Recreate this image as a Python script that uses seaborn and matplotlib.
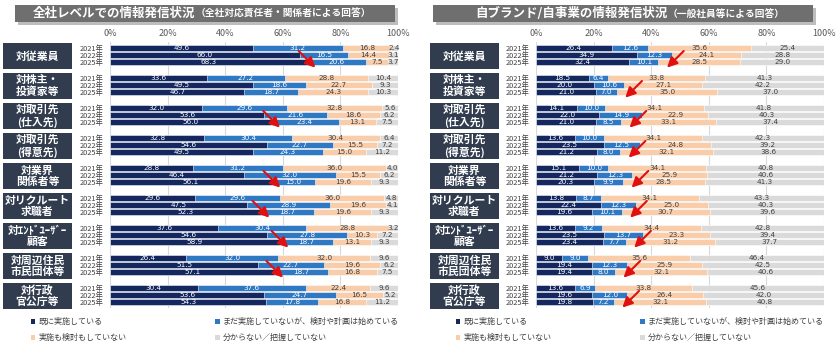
import pandas as pd
import matplotlib
matplotlib.use("Agg")
import matplotlib.pyplot as plt
import seaborn as sns
from matplotlib.patches import Rectangle, Patch
from matplotlib.text import Annotation
from matplotlib.transforms import blended_transform_factory

sns.set_theme(style="white")
plt.rcParams['font.family'] = ['Noto Sans CJK JP', 'DejaVu Sans']

# Categories
years = ['2021年', '2022年', '2025年']
groups = ['対従業員', '対株主・\n投資家等', '対取引先\n(仕入先)', '対取引先\n(得意先)',
          '対業界\n関係者等', '対リクルート\n求職者', '対ｴﾝﾄﾞﾕｰｻﾞｰ\n顧客',
          '対周辺住民\n市民団体等', '対行政\n官公庁等']
answers = ['既に実施している', 'まだ実施していないが、検討や計画は始めている',
           '実施も検討もしていない', '分からない／把握していない']
colors = ['#14275f', '#2f78c4', '#f9cdaa', '#dadada']

# Left panel: 全社対応責任者・関係者 (per group: 2021, 2022, 2025)
left_done = [49.6, 66.0, 68.3, 33.6, 49.5, 46.7, 32.0, 53.6, 56.0,
             32.8, 54.6, 49.5, 28.8, 46.4, 56.1, 29.6, 47.5, 52.3,
             37.6, 54.6, 58.9, 26.4, 51.5, 57.1, 30.4, 53.6, 54.3]
left_plan = [31.2, 16.5, 20.6, 27.2, 18.6, 18.7, 29.6, 21.6, 23.4,
             30.4, 22.7, 24.3, 31.2, 32.0, 15.0, 29.6, 28.9, 18.7,
             30.4, 27.8, 18.7, 32.0, 22.7, 18.7, 37.6, 24.7, 17.8]
left_none = [16.8, 14.4, 7.5, 28.8, 22.7, 24.3, 32.8, 18.6, 13.1,
             30.4, 15.5, 15.0, 36.0, 15.5, 19.6, 36.0, 19.6, 19.6,
             28.8, 10.3, 13.1, 32.0, 19.6, 16.8, 22.4, 16.5, 16.8]
left_unknown = [2.4, 3.1, 3.7, 10.4, 9.3, 10.3, 5.6, 6.2, 7.5,
                6.4, 7.2, 11.2, 4.0, 6.2, 9.3, 4.8, 4.1, 9.3,
                3.2, 7.2, 9.3, 9.6, 6.2, 7.5, 9.6, 5.2, 11.2]
left_arrows = [True, False, True, False, True, True, True, True, False]

# Right panel: 一般社員等
right_done = [26.4, 34.9, 32.4, 18.5, 20.0, 21.0, 14.1, 22.0, 21.0,
              13.6, 23.5, 21.2, 15.1, 21.2, 20.3, 13.8, 22.4, 19.6,
              13.6, 23.5, 23.4, 9.0, 19.4, 19.4, 13.6, 19.6, 19.8]
right_plan = [12.6, 12.3, 10.1, 6.4, 10.6, 7.0, 10.0, 14.9, 8.5,
              10.0, 12.5, 8.0, 10.0, 12.3, 9.9, 8.7, 12.3, 10.1,
              9.2, 13.7, 7.7, 9.0, 12.3, 8.0, 6.9, 12.0, 7.2]
right_none = [35.6, 24.1, 28.5, 33.8, 27.1, 35.0, 34.1, 22.9, 33.1,
              34.1, 24.8, 32.1, 34.1, 25.9, 28.5, 34.1, 25.0, 30.7,
              34.4, 23.3, 31.2, 35.6, 25.9, 32.1, 33.8, 26.4, 32.1]
right_unknown = [25.4, 28.8, 29.0, 41.3, 42.2, 37.0, 41.8, 40.3, 37.4,
                 42.3, 39.2, 38.6, 40.8, 40.6, 41.3, 43.3, 40.3, 39.6,
                 42.8, 39.4, 37.7, 46.4, 42.5, 40.6, 45.6, 42.0, 40.8]
right_arrows = [True] * 9

GAP = 4.27
W, H = 840, 351


def make_df(series):
    rows = []
    for g in range(len(groups)):
        for j, yr in enumerate(years):
            i = g * 3 + j
            cum = 0
            for k, s in enumerate(series):
                v = s[i]
                rows.append(dict(group=g, year=yr, pos=g * GAP + j, answer=k,
                                 value=v, start=cum, end=cum + v))
                cum += v
    return pd.DataFrame(rows)


def draw_panel(ax, df, arrows, arrow_seg, arrow_dx, box_x):
    # stacked bars: draw cumulative ends from last segment to first
    for k in reversed(range(4)):
        d = df[df['answer'] == k]
        sns.barplot(data=d, x='end', y='pos', orient='y', native_scale=True,
                    color=colors[k], saturation=1, width=0.78, errorbar=None,
                    edgecolor='white', linewidth=0.4, ax=ax)
    for _, r in df.iterrows():
        tc = 'white' if r['answer'] < 2 else '#404040'
        ax.text(r['start'] + r['value'] / 2, r['pos'], f"{r['value']:.1f}",
                ha='center', va='center', fontsize=5.2, color=tc,
                family=['DejaVu Sans'])
    last = (len(groups) - 1) * GAP + 2
    ax.set_xlim(0, 100)
    ax.set_ylim(last + 0.8, -0.8)
    ax.set_xlabel('')
    ax.set_ylabel('')
    ax.set_xticks(range(0, 101, 20))
    ax.set_xticklabels([f'{t}%' for t in range(0, 101, 20)])
    ax.tick_params(axis='x', top=True, labeltop=True, bottom=False,
                   labelbottom=False, length=0, pad=3, labelsize=6.5,
                   labelcolor='#595959')
    ax.set_yticks(df['pos'].unique())
    ax.set_yticklabels(years * len(groups))
    ax.tick_params(axis='y', length=0, pad=5, labelsize=5.3, labelcolor='#404040')
    ax.grid(axis='x', color='#d9d9d9', lw=0.8)
    ax.set_axisbelow(True)
    sns.despine(ax=ax, left=True, bottom=True)

    trans = blended_transform_factory(ax.transAxes, ax.transData)
    bw = 69 / 288
    for g, name in enumerate(groups):
        p0 = g * GAP
        ax.add_patch(Rectangle((box_x, p0 - 0.7), bw, 3.75, transform=trans,
                               facecolor='#313d4f', edgecolor='none',
                               clip_on=False))
        ax.text(box_x + bw / 2, p0 + 1.18, name, transform=trans, ha='center',
                va='center', color='white', fontsize=7.8, fontweight='bold',
                linespacing=1.12, clip_on=False)
        if arrows[g]:
            d = df[(df['group'] == g) & (df['year'] == '2025年') &
                   (df['answer'] == arrow_seg)]
            tip = d['end'].iloc[0] + 3
            ax.annotate('', xy=(tip, p0 + 2.8), xytext=(arrow_dx, 12),
                        textcoords='offset points', annotation_clip=False,
                        arrowprops=dict(arrowstyle='-|>,head_length=0.5,head_width=0.25',
                                        color='#e01010', lw=1.5,
                                        shrinkA=0, shrinkB=0))


fig = plt.figure(figsize=(W / 100, H / 100), dpi=100)
ax_h = (36.16 + 1.6) * 7.024 / H
ax_b = (H - 307.6) / H
axl = fig.add_axes([110 / W, ax_b, 288 / W, ax_h])
axr = fig.add_axes([536 / W, ax_b, 288 / W, ax_h])

draw_panel(axl, make_df([left_done, left_plan, left_none, left_unknown]),
           left_arrows, 0, -12, (3 - 110) / 288)
draw_panel(axr, make_df([right_done, right_plan, right_none, right_unknown]),
           right_arrows, 1, 12, (430 - 536) / 288)

# title boxes
titles = [(15, 33, '全社レベルでの情報発信状況', '（全社対応責任者・関係者による回答）'),
          (433, 475, '自ブランド/自事業の情報発信状況', '（一般社員等による回答）')]
for bx, tx, main, sub in titles:
    fig.patches.append(Rectangle(((bx + 3) / W, 1 - 25 / H), 380 / W, 17 / H,
                                 transform=fig.transFigure, facecolor='#bdbdbd',
                                 edgecolor='none'))
    fig.patches.append(Rectangle((bx / W, 1 - 22 / H), 380 / W, 17 / H,
                                 transform=fig.transFigure, facecolor='#6f6f6f',
                                 edgecolor='none'))
    t1 = fig.text(tx / W, 1 - 13.5 / H, main, color='white', fontsize=9.0,
                  fontweight='bold', va='center', ha='left')
    fig.add_artist(Annotation(sub, xy=(1, 0.5), xycoords=t1, va='center',
                              ha='left', color='white', fontsize=7.0,
                              fontweight='bold', zorder=5))

# legends
handles = [Patch(facecolor=colors[k], edgecolor='none') for k in [0, 2, 1, 3]]
labels = [answers[k] for k in [0, 2, 1, 3]]
for lx in [31, 456]:
    fig.legend(handles, labels, loc='upper left',
               bbox_to_anchor=(lx / W, 1 - 317 / H), ncol=2, frameon=False,
               fontsize=5.8, labelcolor='#404040', handlelength=0.55,
               handleheight=0.55, handletextpad=0.4, labelspacing=0.9,
               columnspacing=11.0, borderpad=0, borderaxespad=0)

fig.savefig('out.png', dpi=100)
